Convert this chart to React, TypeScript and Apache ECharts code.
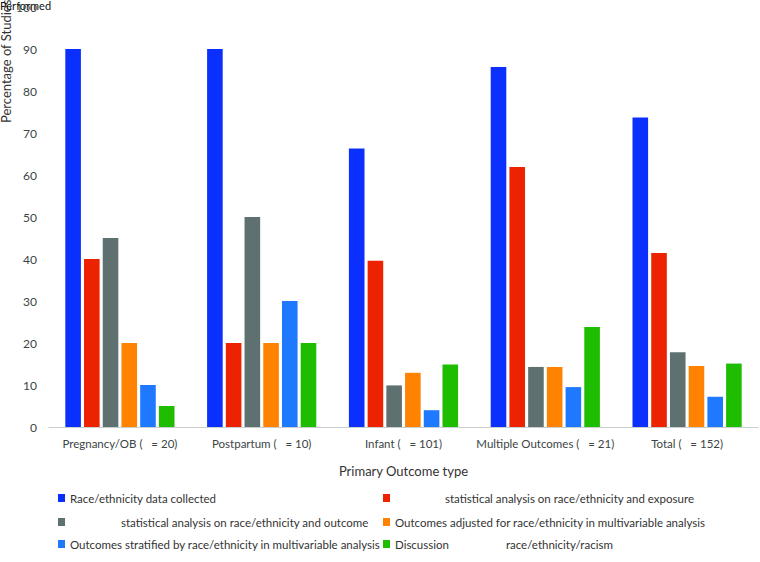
import React, { useEffect, useRef } from "react";
import * as echarts from "echarts";

const categories = [
  "Pregnancy/OB (   = 20)",
  "Postpartum (   = 10)",
  "Infant (   = 101)",
  "Multiple Outcomes (   = 21)",
  "Total (   = 152)",
];

const seriesNames = [
  "Race/ethnicity data collected",
  "statistical analysis on race/ethnicity and exposure",
  "statistical analysis on race/ethnicity and outcome",
  "Outcomes adjusted for race/ethnicity in multivariable analysis",
  "Outcomes stratified by race/ethnicity in multivariable analysis",
  "Discussion race/ethnicity/racism",
];

const collected = [90, 90, 66.3, 85.7, 73.7];
const exposure = [40, 20, 39.6, 61.9, 41.4];
const outcome = [45, 50, 9.9, 14.3, 17.8];
const adjusted = [20, 20, 12.9, 14.3, 14.5];
const stratified = [10, 30, 4, 9.5, 7.2];
const discussion = [5, 20, 14.9, 23.8, 15.1];

const seriesValues = [collected, exposure, outcome, adjusted, stratified, discussion];
const colors = ["#0b2ffd", "#ec2200", "#5f7070", "#ff8200", "#1f79ff", "#1fbd00"];

const yTicks = { min: 0, max: 100, interval: 10 };

const FONT = "Lato";

export default function App() {
  const ref = useRef<HTMLDivElement>(null);
  useEffect(() => {
    document.body.style.margin = "0";
    if (!ref.current) return;
    const chart = echarts.init(ref.current, undefined, { renderer: "svg" });
    const legendPos = [
      { left: 58, top: 492 },
      { left: 383, top: 492 },
      { left: 58, top: 516 },
      { left: 383, top: 516 },
      { left: 58, top: 538 },
      { left: 383, top: 538 },
    ];
    const legendFormat = [
      (n: string) => n,
      (n: string) => "{g1|}" + n,
      (n: string) => "{g2|}" + n,
      (n: string) => n,
      (n: string) => n,
      () => "{t|Discussion}{g3|}{t|race/ethnicity/racism}",
    ];
    chart.setOption({
      animation: false,
      textStyle: { fontFamily: FONT },
      grid: { left: 49, right: 2, top: 7, bottom: 135, containLabel: false },
      legend: seriesNames.map((name, i) => ({
        data: [name],
        left: legendPos[i].left,
        top: legendPos[i].top,
        padding: 0,
        itemWidth: 7,
        itemHeight: 8,
        icon: "rect",
        selectedMode: false,
        formatter: legendFormat[i],
        textStyle: {
          fontFamily: FONT,
          fontSize: 11.5,
          color: "#333",
          rich: {
            g1: { width: 50 },
            g2: { width: 51 },
            g3: { width: 57 },
            t: { fontFamily: FONT, fontSize: 11.5, color: "#333" },
          },
        },
      })),
      xAxis: {
        type: "category",
        data: categories,
        name: "Primary Outcome type",
        nameLocation: "middle",
        nameGap: 37,
        nameTextStyle: { fontFamily: FONT, fontSize: 13, color: "#333" },
        axisLine: { lineStyle: { color: "#c9cfcf", width: 1 } },
        axisTick: { show: false },
        axisLabel: { interval: 0, fontFamily: FONT, fontSize: 11.5, color: "#3b4545", margin: 10 },
      },
      yAxis: {
        type: "value",
        min: yTicks.min,
        max: yTicks.max,
        interval: yTicks.interval,
        axisLine: { show: false },
        axisTick: { show: false },
        splitLine: { show: false },
        axisLabel: { fontFamily: FONT, fontSize: 12, color: "#3b4545", margin: 12 },
      },
      graphic: [
        {
          type: "text",
          x: 6,
          y: 123,
          rotation: Math.PI / 2,
          style: {
            text: "Percentage of Studies",
            fontFamily: FONT,
            fontSize: 13,
            fill: "#333",
            textAlign: "left",
            textVerticalAlign: "middle",
          },
        },
        {
          type: "text",
          x: 0,
          y: 5,
          style: {
            text: "Performed",
            fontFamily: FONT,
            fontSize: 11,
            fill: "#111",
            textAlign: "left",
            textVerticalAlign: "middle",
          },
        },
      ],
      series: seriesNames.map((name, i) => ({
        name,
        type: "bar",
        data: seriesValues[i],
        barGap: "20%",
        barCategoryGap: "23%",
        itemStyle: { color: colors[i] },
      })),
    });
    return () => chart.dispose();
  }, []);
  return <div ref={ref} style={{ width: 760, height: 562 }} />;
}
